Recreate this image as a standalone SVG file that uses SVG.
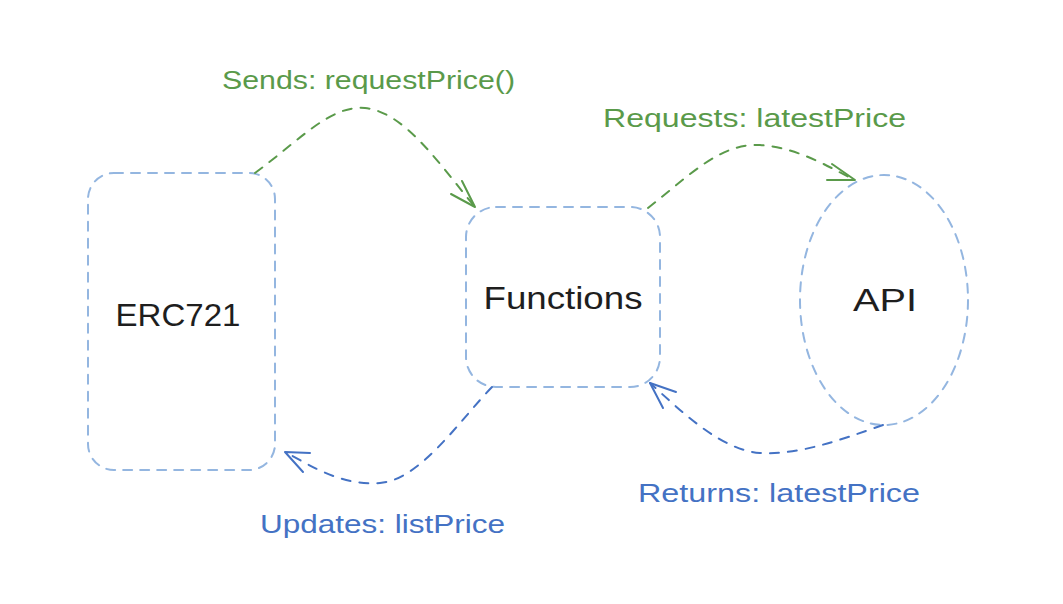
<svg xmlns="http://www.w3.org/2000/svg" width="1063" height="604" viewBox="0 0 1063 604">
<style>
.node{fill:none;stroke:#94b6e0;stroke-width:2;stroke-dasharray:9 8;stroke-linecap:round}
.lbl{font-family:"Liberation Sans",Arial,sans-serif;fill:#1e1e1e;text-anchor:middle;dominant-baseline:central}
.el{font-family:"Liberation Sans",Arial,sans-serif;font-size:25px;dominant-baseline:central}
.g{stroke:#5a9a4a}
.b{stroke:#4472c4}
.con{fill:none;stroke-width:2;stroke-dasharray:9 9;stroke-linecap:round}
.head{fill:none;stroke-width:2;stroke-linecap:round;stroke-linejoin:round}
</style>
<rect width="1063" height="604" fill="#ffffff"/>
<g id="erc721">
<rect class="node" x="88" y="173" width="187" height="297" rx="26"/>
<text class="lbl" x="178" y="315" font-size="32" textLength="125" lengthAdjust="spacingAndGlyphs">ERC721</text>
</g>
<g id="functions">
<rect class="node" x="466" y="207" width="194" height="180" rx="30"/>
<text class="lbl" x="563" y="298" font-size="32" textLength="159" lengthAdjust="spacingAndGlyphs">Functions</text>
</g>
<g id="api">
<ellipse class="node" cx="884" cy="300" rx="84" ry="125"/>
<text class="lbl" x="885" y="300" font-size="32" textLength="64" lengthAdjust="spacingAndGlyphs">API</text>
</g>
<g id="connectors">
<path class="con g" d="M255,173 C300,140 330,105 365,108 C405,112 440,165 475,207"/>
<path class="head g" d="M462,181 L475,207 L451,194"/>
<path class="con g" d="M648,208 C690,175 720,143 760,145 C800,148 830,168 855,180"/>
<path class="head g" d="M832,164 L855,180 L827,180"/>
<path class="con b" d="M883,425 C840,440 800,455 760,453 C720,450 680,410 650,383"/>
<path class="head b" d="M676,392 L650,383 L663,408"/>
<path class="con b" d="M492,387 C460,420 420,480 380,483 C340,486 310,465 285,452"/>
<path class="head b" d="M310,453 L285,452 L303,472"/>
</g>
<g id="labels">
<text class="el" x="222" y="80" fill="#5a9a4a" textLength="293" lengthAdjust="spacingAndGlyphs">Sends: requestPrice()</text>
<text class="el" x="603" y="118" fill="#5a9a4a" textLength="303" lengthAdjust="spacingAndGlyphs">Requests: latestPrice</text>
<text class="el" x="260" y="524" fill="#4472c4" textLength="245" lengthAdjust="spacingAndGlyphs">Updates: listPrice</text>
<text class="el" x="638" y="493" fill="#4472c4" textLength="282" lengthAdjust="spacingAndGlyphs">Returns: latestPrice</text>
</g>
</svg>
